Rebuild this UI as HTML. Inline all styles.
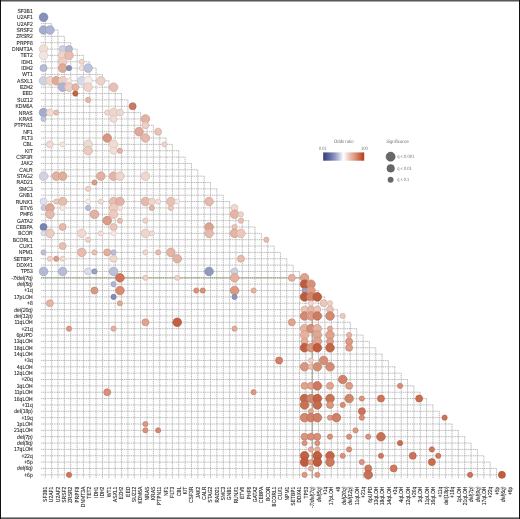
<!DOCTYPE html><html><head><meta charset="utf-8"><style>html,body{margin:0;padding:0;background:#fff;}svg{display:block;}text{font-family:"Liberation Sans",Arial,sans-serif;text-rendering:geometricPrecision;}</style></head><body><svg width="520" height="519" viewBox="0 0 520 519"><rect width="520" height="519" fill="#fff"/><g stroke="#a8a8a8" stroke-width="0.8" stroke-dasharray="1.2,0.6" fill="none"><path d="M41,17.27H45.3"/><path d="M41,23.62H51.66"/><path d="M41,29.98H58.01"/><path d="M41,36.34H64.36"/><path d="M41,42.69H70.72"/><path d="M41,49.05H77.08"/><path d="M41,55.4H83.43"/><path d="M41,61.76H89.78"/><path d="M41,68.11H96.14"/><path d="M41,74.47H102.5"/><path d="M41,80.82H108.85"/><path d="M41,87.18H115.2"/><path d="M41,93.53H121.56"/><path d="M41,99.88H127.92"/><path d="M41,106.24H134.27"/><path d="M41,112.59H140.62"/><path d="M41,118.95H146.98"/><path d="M41,125.31H153.34"/><path d="M41,131.66H159.69"/><path d="M41,138.02H166.05"/><path d="M41,144.37H172.4"/><path d="M41,150.72H178.75"/><path d="M41,157.08H185.11"/><path d="M41,163.44H191.47"/><path d="M41,169.79H197.82"/><path d="M41,176.15H204.18"/><path d="M41,182.5H210.53"/><path d="M41,188.85H216.88"/><path d="M41,195.21H223.24"/><path d="M41,201.56H229.6"/><path d="M41,207.92H235.95"/><path d="M41,214.28H242.31"/><path d="M41,220.63H248.66"/><path d="M41,226.99H255.01"/><path d="M41,233.34H261.37"/><path d="M41,239.7H267.73"/><path d="M41,246.05H274.08"/><path d="M41,252.41H280.44"/><path d="M41,258.76H286.79"/><path d="M41,265.12H293.15"/><path d="M41,271.47H299.5"/><path d="M41,277.83H305.86"/><path d="M41,284.18H312.21"/><path d="M41,290.54H318.57"/><path d="M41,296.89H324.92"/><path d="M41,303.25H331.28"/><path d="M41,309.6H337.63"/><path d="M41,315.96H343.99"/><path d="M41,322.31H350.34"/><path d="M41,328.67H356.7"/><path d="M41,335.02H363.05"/><path d="M41,341.38H369.41"/><path d="M41,347.73H375.76"/><path d="M41,354.09H382.12"/><path d="M41,360.44H388.47"/><path d="M41,366.8H394.83"/><path d="M41,373.15H401.18"/><path d="M41,379.51H407.54"/><path d="M41,385.86H413.89"/><path d="M41,392.22H420.25"/><path d="M41,398.57H426.6"/><path d="M41,404.93H432.96"/><path d="M41,411.28H439.31"/><path d="M41,417.64H445.67"/><path d="M41,423.99H452.02"/><path d="M41,430.35H458.38"/><path d="M41,436.7H464.73"/><path d="M41,443.06H471.09"/><path d="M41,449.41H477.44"/><path d="M41,455.77H483.8"/><path d="M41,462.12H490.15"/><path d="M41,468.48H496.51"/><path d="M41,474.83H502.86"/><path d="M45.3,17.27V478.5"/><path d="M51.66,23.62V478.5"/><path d="M58.01,29.98V478.5"/><path d="M64.36,36.34V478.5"/><path d="M70.72,42.69V478.5"/><path d="M77.08,49.05V478.5"/><path d="M83.43,55.4V478.5"/><path d="M89.78,61.76V478.5"/><path d="M96.14,68.11V478.5"/><path d="M102.5,74.47V478.5"/><path d="M108.85,80.82V478.5"/><path d="M115.2,87.18V478.5"/><path d="M121.56,93.53V478.5"/><path d="M127.92,99.88V478.5"/><path d="M134.27,106.24V478.5"/><path d="M140.62,112.59V478.5"/><path d="M146.98,118.95V478.5"/><path d="M153.34,125.31V478.5"/><path d="M159.69,131.66V478.5"/><path d="M166.05,138.02V478.5"/><path d="M172.4,144.37V478.5"/><path d="M178.75,150.72V478.5"/><path d="M185.11,157.08V478.5"/><path d="M191.47,163.44V478.5"/><path d="M197.82,169.79V478.5"/><path d="M204.18,176.15V478.5"/><path d="M210.53,182.5V478.5"/><path d="M216.88,188.85V478.5"/><path d="M223.24,195.21V478.5"/><path d="M229.6,201.56V478.5"/><path d="M235.95,207.92V478.5"/><path d="M242.31,214.28V478.5"/><path d="M248.66,220.63V478.5"/><path d="M255.01,226.99V478.5"/><path d="M261.37,233.34V478.5"/><path d="M267.73,239.7V478.5"/><path d="M274.08,246.05V478.5"/><path d="M280.44,252.41V478.5"/><path d="M286.79,258.76V478.5"/><path d="M293.15,265.12V478.5"/><path d="M299.5,271.47V478.5"/><path d="M305.86,277.83V478.5"/><path d="M312.21,284.18V478.5"/><path d="M318.57,290.54V478.5"/><path d="M324.92,296.89V478.5"/><path d="M331.28,303.25V478.5"/><path d="M337.63,309.6V478.5"/><path d="M343.99,315.96V478.5"/><path d="M350.34,322.31V478.5"/><path d="M356.7,328.67V478.5"/><path d="M363.05,335.02V478.5"/><path d="M369.41,341.38V478.5"/><path d="M375.76,347.73V478.5"/><path d="M382.12,354.09V478.5"/><path d="M388.47,360.44V478.5"/><path d="M394.83,366.8V478.5"/><path d="M401.18,373.15V478.5"/><path d="M407.54,379.51V478.5"/><path d="M413.89,385.86V478.5"/><path d="M420.25,392.22V478.5"/><path d="M426.6,398.57V478.5"/><path d="M432.96,404.93V478.5"/><path d="M439.31,411.28V478.5"/><path d="M445.67,417.64V478.5"/><path d="M452.02,423.99V478.5"/><path d="M458.38,430.35V478.5"/><path d="M464.73,436.7V478.5"/><path d="M471.09,443.06V478.5"/><path d="M477.44,449.41V478.5"/><path d="M483.8,455.77V478.5"/><path d="M490.15,462.12V478.5"/><path d="M496.51,468.48V478.5"/><path d="M502.86,474.83V478.5"/></g><path d="M41,277.83H305.86" stroke="#93a07e" stroke-width="1.3" stroke-dasharray="1.4,0.5" fill="none"/><path d="M312.21,284.18V478.5" stroke="#8a9a78" stroke-width="0.9" fill="none"/><circle cx="43.55" cy="17.27" r="4.3" fill="#8690bb" stroke="#757ea4" stroke-width="0.7"/><circle cx="43.55" cy="29.98" r="4.3" fill="#a6accc" stroke="#9297b3" stroke-width="0.7"/><circle cx="49.92" cy="29.98" r="4.3" fill="#aeb4d4" stroke="#999eba" stroke-width="0.7"/><circle cx="43.55" cy="49.05" r="4.3" fill="#f2ded6" stroke="#d4c3bc" stroke-width="0.7"/><circle cx="62.65" cy="49.05" r="3.5" fill="#cdcfe1" stroke="#b4b6c6" stroke-width="0.7"/><circle cx="69.01" cy="49.05" r="3.5" fill="#b6bbd7" stroke="#a0a4bd" stroke-width="0.7"/><circle cx="43.55" cy="55.4" r="4.3" fill="#f2e4e1" stroke="#d4c8c6" stroke-width="0.7"/><circle cx="62.65" cy="55.4" r="4.3" fill="#efd4cb" stroke="#d2bab2" stroke-width="0.7"/><circle cx="69.01" cy="55.4" r="4.3" fill="#e8bcb1" stroke="#cca59b" stroke-width="0.7"/><circle cx="62.65" cy="61.76" r="4.3" fill="#edcec3" stroke="#d0b5ab" stroke-width="0.7"/><circle cx="81.75" cy="61.76" r="2.6" fill="#f0d7ce" stroke="#d3bdb5" stroke-width="0.7"/><circle cx="43.55" cy="68.11" r="3.5" fill="#b8bcd8" stroke="#a1a5be" stroke-width="0.7"/><circle cx="62.65" cy="68.11" r="4.3" fill="#e0ac9a" stroke="#c59787" stroke-width="0.7"/><circle cx="69.01" cy="68.11" r="2.6" fill="#8890b8" stroke="#777ea1" stroke-width="0.7"/><circle cx="81.75" cy="68.11" r="2.6" fill="#f3e3dd" stroke="#d5c7c2" stroke-width="0.7"/><circle cx="88.11" cy="68.11" r="4.3" fill="#bec3dd" stroke="#a7abc2" stroke-width="0.7"/><circle cx="43.55" cy="80.82" r="4.3" fill="#cfd2e3" stroke="#b6b8c7" stroke-width="0.7"/><circle cx="49.92" cy="80.82" r="4.3" fill="#efd7ce" stroke="#d2bdb5" stroke-width="0.7"/><circle cx="56.28" cy="80.82" r="4.3" fill="#dfab98" stroke="#c49685" stroke-width="0.7"/><circle cx="62.65" cy="80.82" r="4.3" fill="#edcec4" stroke="#d0b5ac" stroke-width="0.7"/><circle cx="69.01" cy="80.82" r="2.6" fill="#f6e9e5" stroke="#d8cdc9" stroke-width="0.7"/><circle cx="81.75" cy="80.82" r="4.3" fill="#d7d9e8" stroke="#bdbecc" stroke-width="0.7"/><circle cx="88.11" cy="80.82" r="4.3" fill="#f7ece9" stroke="#d9cfcd" stroke-width="0.7"/><circle cx="100.84" cy="80.82" r="4.3" fill="#edd2c7" stroke="#d0b8af" stroke-width="0.7"/><circle cx="62.65" cy="87.18" r="4.3" fill="#afb4d4" stroke="#9a9eba" stroke-width="0.7"/><circle cx="69.01" cy="87.18" r="4.3" fill="#edcfc5" stroke="#d0b6ad" stroke-width="0.7"/><circle cx="75.38" cy="87.18" r="3.5" fill="#e4b6a7" stroke="#c8a092" stroke-width="0.7"/><circle cx="88.11" cy="87.18" r="4.3" fill="#f0d5cb" stroke="#d3bbb2" stroke-width="0.7"/><circle cx="75.38" cy="93.53" r="2.6" fill="#c26442" stroke="#aa583a" stroke-width="0.7"/><circle cx="88.11" cy="99.88" r="2.6" fill="#e6b6a6" stroke="#caa092" stroke-width="0.7"/><circle cx="43.55" cy="112.59" r="4.3" fill="#a4abcc" stroke="#9096b3" stroke-width="0.7"/><circle cx="49.92" cy="112.59" r="3.5" fill="#f1dbd3" stroke="#d4c0b9" stroke-width="0.7"/><circle cx="56.28" cy="112.59" r="2.6" fill="#e9bfb1" stroke="#cda89b" stroke-width="0.7"/><circle cx="43.55" cy="118.95" r="2.6" fill="#c1c5dd" stroke="#a9adc2" stroke-width="0.7"/><circle cx="113.58" cy="87.18" r="4.3" fill="#e8bfb3" stroke="#cca89d" stroke-width="0.7"/><circle cx="132.67" cy="106.24" r="3.5" fill="#c97a63" stroke="#b06b57" stroke-width="0.7"/><circle cx="107.21" cy="112.59" r="2.6" fill="#efd8cf" stroke="#d2beb6" stroke-width="0.7"/><circle cx="113.58" cy="112.59" r="4.3" fill="#efd6cd" stroke="#d2bcb4" stroke-width="0.7"/><circle cx="119.94" cy="112.59" r="3.5" fill="#efd8cf" stroke="#d2beb6" stroke-width="0.7"/><circle cx="113.58" cy="118.95" r="3.5" fill="#f1dcd4" stroke="#d4c1ba" stroke-width="0.7"/><circle cx="145.41" cy="118.95" r="4.3" fill="#e2b2a3" stroke="#c69c8f" stroke-width="0.7"/><circle cx="145.41" cy="125.31" r="3.5" fill="#edcec3" stroke="#d0b5ab" stroke-width="0.7"/><circle cx="139.04" cy="131.66" r="4.3" fill="#e0a898" stroke="#c59385" stroke-width="0.7"/><circle cx="158.14" cy="131.66" r="3.5" fill="#e9c4b8" stroke="#cdaca1" stroke-width="0.7"/><circle cx="49.92" cy="144.37" r="3.5" fill="#f1dad1" stroke="#d4bfb7" stroke-width="0.7"/><circle cx="62.65" cy="144.37" r="2.6" fill="#f4e3dd" stroke="#d6c7c2" stroke-width="0.7"/><circle cx="88.11" cy="144.37" r="4.3" fill="#ecdad4" stroke="#cfbfba" stroke-width="0.7"/><circle cx="88.11" cy="150.72" r="4.3" fill="#eccbbf" stroke="#cfb2a8" stroke-width="0.7"/><circle cx="43.55" cy="176.15" r="4.3" fill="#cfd2e1" stroke="#b6b8c6" stroke-width="0.7"/><circle cx="56.28" cy="176.15" r="4.3" fill="#e2b2a3" stroke="#c69c8f" stroke-width="0.7"/><circle cx="62.65" cy="176.15" r="4.3" fill="#e0ae9a" stroke="#c59987" stroke-width="0.7"/><circle cx="100.84" cy="176.15" r="4.3" fill="#e1b2a2" stroke="#c69c8e" stroke-width="0.7"/><circle cx="94.48" cy="182.5" r="2.6" fill="#d99e8a" stroke="#be8b79" stroke-width="0.7"/><circle cx="88.11" cy="188.85" r="2.6" fill="#efd1c8" stroke="#d2b7b0" stroke-width="0.7"/><circle cx="107.21" cy="138.02" r="4.3" fill="#d99782" stroke="#be8472" stroke-width="0.7"/><circle cx="145.41" cy="138.02" r="4.3" fill="#e6b9ab" stroke="#caa296" stroke-width="0.7"/><circle cx="113.58" cy="144.37" r="4.3" fill="#f1dbd2" stroke="#d4c0b8" stroke-width="0.7"/><circle cx="164.5" cy="144.37" r="2.6" fill="#eed3ca" stroke="#d1b9b1" stroke-width="0.7"/><circle cx="113.58" cy="150.72" r="3.5" fill="#f3dfd8" stroke="#d5c4be" stroke-width="0.7"/><circle cx="119.94" cy="150.72" r="2.6" fill="#e4b4a4" stroke="#c89e90" stroke-width="0.7"/><circle cx="113.58" cy="176.15" r="4.3" fill="#e4b5a7" stroke="#c89f92" stroke-width="0.7"/><circle cx="119.94" cy="176.15" r="4.3" fill="#efd5cc" stroke="#d2bbb3" stroke-width="0.7"/><circle cx="145.41" cy="176.15" r="4.3" fill="#f0d7ce" stroke="#d3bdb5" stroke-width="0.7"/><circle cx="43.55" cy="201.56" r="3.5" fill="#dedfeb" stroke="#c3c4ce" stroke-width="0.7"/><circle cx="56.28" cy="201.56" r="2.6" fill="#ecc8bb" stroke="#cfb0a4" stroke-width="0.7"/><circle cx="62.65" cy="201.56" r="4.3" fill="#e6bcad" stroke="#caa598" stroke-width="0.7"/><circle cx="88.11" cy="201.56" r="2.6" fill="#f6ebe7" stroke="#d8cecb" stroke-width="0.7"/><circle cx="100.84" cy="201.56" r="2.6" fill="#f0dad1" stroke="#d3bfb7" stroke-width="0.7"/><circle cx="43.55" cy="207.92" r="2.6" fill="#c9cce0" stroke="#b0b3c5" stroke-width="0.7"/><circle cx="49.92" cy="207.92" r="4.3" fill="#dea896" stroke="#c39384" stroke-width="0.7"/><circle cx="62.65" cy="207.92" r="2.6" fill="#f6e7e3" stroke="#d8cbc7" stroke-width="0.7"/><circle cx="88.11" cy="207.92" r="2.6" fill="#b8bcd8" stroke="#a1a5be" stroke-width="0.7"/><circle cx="49.92" cy="214.28" r="4.3" fill="#e5b9ae" stroke="#c9a299" stroke-width="0.7"/><circle cx="94.48" cy="214.28" r="4.3" fill="#e1b1a2" stroke="#c69b8e" stroke-width="0.7"/><circle cx="43.55" cy="226.99" r="3.5" fill="#7a84b2" stroke="#6b749c" stroke-width="0.7"/><circle cx="62.65" cy="226.99" r="3.5" fill="#e6b9aa" stroke="#caa295" stroke-width="0.7"/><circle cx="43.55" cy="233.34" r="2.6" fill="#dbdeec" stroke="#c0c3cf" stroke-width="0.7"/><circle cx="49.92" cy="233.34" r="4.3" fill="#eccbc0" stroke="#cfb2a8" stroke-width="0.7"/><circle cx="81.75" cy="233.34" r="4.3" fill="#f1d8cf" stroke="#d4beb6" stroke-width="0.7"/><circle cx="100.84" cy="233.34" r="2.6" fill="#f2ded6" stroke="#d4c3bc" stroke-width="0.7"/><circle cx="88.11" cy="239.7" r="2.6" fill="#eed2c8" stroke="#d1b8b0" stroke-width="0.7"/><circle cx="62.65" cy="246.05" r="3.5" fill="#e8beb0" stroke="#cca79a" stroke-width="0.7"/><circle cx="43.55" cy="252.41" r="2.6" fill="#bcc0db" stroke="#a5a8c0" stroke-width="0.7"/><circle cx="81.75" cy="252.41" r="4.3" fill="#e7bbad" stroke="#cba498" stroke-width="0.7"/><circle cx="94.48" cy="252.41" r="2.6" fill="#e9c1b2" stroke="#cda99c" stroke-width="0.7"/><circle cx="49.92" cy="258.76" r="2.6" fill="#efd3c9" stroke="#d2b9b0" stroke-width="0.7"/><circle cx="56.28" cy="258.76" r="2.6" fill="#da9e8a" stroke="#bf8b79" stroke-width="0.7"/><circle cx="62.65" cy="258.76" r="2.6" fill="#f0d9d0" stroke="#d3beb7" stroke-width="0.7"/><circle cx="113.58" cy="201.56" r="4.3" fill="#e8beb2" stroke="#cca79c" stroke-width="0.7"/><circle cx="119.94" cy="201.56" r="4.3" fill="#e2b2a3" stroke="#c69c8f" stroke-width="0.7"/><circle cx="145.41" cy="201.56" r="4.3" fill="#e6b9ab" stroke="#caa296" stroke-width="0.7"/><circle cx="151.77" cy="201.56" r="3.5" fill="#efd5cb" stroke="#d2bbb2" stroke-width="0.7"/><circle cx="158.14" cy="201.56" r="2.6" fill="#f3ded7" stroke="#d5c3bd" stroke-width="0.7"/><circle cx="113.58" cy="207.92" r="4.3" fill="#edcbbf" stroke="#d0b2a8" stroke-width="0.7"/><circle cx="119.94" cy="207.92" r="2.6" fill="#f3e0d8" stroke="#d5c5be" stroke-width="0.7"/><circle cx="151.77" cy="207.92" r="2.6" fill="#e4b6a6" stroke="#c8a092" stroke-width="0.7"/><circle cx="113.58" cy="214.28" r="4.3" fill="#edcabd" stroke="#d0b1a6" stroke-width="0.7"/><circle cx="107.21" cy="220.63" r="4.3" fill="#da9d88" stroke="#bf8a77" stroke-width="0.7"/><circle cx="119.94" cy="220.63" r="2.6" fill="#e8bfb0" stroke="#cca89a" stroke-width="0.7"/><circle cx="145.41" cy="220.63" r="2.6" fill="#efd1c8" stroke="#d2b7b0" stroke-width="0.7"/><circle cx="113.58" cy="226.99" r="3.5" fill="#eac4b7" stroke="#cdaca1" stroke-width="0.7"/><circle cx="113.58" cy="233.34" r="2.6" fill="#f6e8e4" stroke="#d8ccc8" stroke-width="0.7"/><circle cx="145.41" cy="233.34" r="4.3" fill="#f0d5cb" stroke="#d3bbb2" stroke-width="0.7"/><circle cx="151.77" cy="233.34" r="2.6" fill="#f1dbd3" stroke="#d4c0b9" stroke-width="0.7"/><circle cx="107.21" cy="252.41" r="3.5" fill="#e2af9e" stroke="#c69a8b" stroke-width="0.7"/><circle cx="113.58" cy="252.41" r="2.6" fill="#bbbfda" stroke="#a4a8bf" stroke-width="0.7"/><circle cx="145.41" cy="252.41" r="2.6" fill="#efd5cc" stroke="#d2bbb3" stroke-width="0.7"/><circle cx="158.14" cy="252.41" r="2.6" fill="#e7bcae" stroke="#cba599" stroke-width="0.7"/><circle cx="113.58" cy="258.76" r="3.5" fill="#efd7ce" stroke="#d2bdb5" stroke-width="0.7"/><circle cx="170.87" cy="201.56" r="4.3" fill="#e9c1b3" stroke="#cda99d" stroke-width="0.7"/><circle cx="177.24" cy="201.56" r="2.6" fill="#f6e7e3" stroke="#d8cbc7" stroke-width="0.7"/><circle cx="209.07" cy="201.56" r="4.3" fill="#e6b9ab" stroke="#caa296" stroke-width="0.7"/><circle cx="170.87" cy="207.92" r="2.6" fill="#ebc9bd" stroke="#ceb0a6" stroke-width="0.7"/><circle cx="209.07" cy="226.99" r="4.3" fill="#dba491" stroke="#c0907f" stroke-width="0.7"/><circle cx="209.07" cy="233.34" r="4.3" fill="#e6bbac" stroke="#caa497" stroke-width="0.7"/><circle cx="170.87" cy="252.41" r="4.3" fill="#e4b4a4" stroke="#c89e90" stroke-width="0.7"/><circle cx="177.24" cy="258.76" r="4.3" fill="#e2b3a4" stroke="#c69d90" stroke-width="0.7"/><circle cx="234.53" cy="207.92" r="3.5" fill="#f0d8cf" stroke="#d3beb6" stroke-width="0.7"/><circle cx="234.53" cy="214.28" r="4.3" fill="#e4b5a7" stroke="#c89f92" stroke-width="0.7"/><circle cx="240.9" cy="214.28" r="2.6" fill="#f0d5cb" stroke="#d3bbb2" stroke-width="0.7"/><circle cx="240.9" cy="220.63" r="2.6" fill="#e9c1b2" stroke="#cda99c" stroke-width="0.7"/><circle cx="234.53" cy="226.99" r="2.6" fill="#eac4b7" stroke="#cdaca1" stroke-width="0.7"/><circle cx="234.53" cy="233.34" r="4.3" fill="#e4b4a4" stroke="#c89e90" stroke-width="0.7"/><circle cx="240.9" cy="233.34" r="4.3" fill="#ecc8bb" stroke="#cfb0a4" stroke-width="0.7"/><circle cx="266.36" cy="239.7" r="2.6" fill="#e7bcae" stroke="#cba599" stroke-width="0.7"/><circle cx="240.9" cy="258.76" r="3.5" fill="#e7bcae" stroke="#cba599" stroke-width="0.7"/><circle cx="43.55" cy="271.47" r="4.3" fill="#b4b9d6" stroke="#9ea2bc" stroke-width="0.7"/><circle cx="62.65" cy="271.47" r="4.3" fill="#b8bcd8" stroke="#a1a5be" stroke-width="0.7"/><circle cx="88.11" cy="271.47" r="3.5" fill="#dbddea" stroke="#c0c2cd" stroke-width="0.7"/><circle cx="94.48" cy="271.47" r="2.6" fill="#9aa1c7" stroke="#878daf" stroke-width="0.7"/><circle cx="94.48" cy="290.54" r="3.5" fill="#d69a83" stroke="#bc8773" stroke-width="0.7"/><circle cx="49.92" cy="303.25" r="3.5" fill="#e7b4a4" stroke="#cb9e90" stroke-width="0.7"/><circle cx="113.58" cy="271.47" r="4.3" fill="#bdbfdb" stroke="#a6a8c0" stroke-width="0.7"/><circle cx="119.94" cy="277.83" r="4.3" fill="#d27559" stroke="#b8664e" stroke-width="0.7"/><circle cx="145.41" cy="277.83" r="2.6" fill="#efd1c6" stroke="#d2b7ae" stroke-width="0.7"/><circle cx="113.58" cy="284.18" r="2.6" fill="#aeb4d3" stroke="#999eb9" stroke-width="0.7"/><circle cx="119.94" cy="290.54" r="4.3" fill="#d88b72" stroke="#be7a64" stroke-width="0.7"/><circle cx="113.58" cy="296.89" r="2.6" fill="#838bb7" stroke="#737aa1" stroke-width="0.7"/><circle cx="119.94" cy="303.25" r="2.6" fill="#e3a894" stroke="#c79382" stroke-width="0.7"/><circle cx="145.41" cy="322.31" r="3.5" fill="#e1a38d" stroke="#c68f7c" stroke-width="0.7"/><circle cx="209.07" cy="271.47" r="4.3" fill="#8f9bbd" stroke="#7d88a6" stroke-width="0.7"/><circle cx="177.24" cy="277.83" r="2.6" fill="#f0d1c6" stroke="#d3b7ae" stroke-width="0.7"/><circle cx="196.33" cy="290.54" r="2.6" fill="#da927a" stroke="#bf806b" stroke-width="0.7"/><circle cx="202.7" cy="290.54" r="2.6" fill="#d99077" stroke="#be7e68" stroke-width="0.7"/><circle cx="177.24" cy="322.31" r="4.3" fill="#c26042" stroke="#aa543a" stroke-width="0.7"/><circle cx="234.53" cy="271.47" r="3.5" fill="#cdd0e0" stroke="#b4b7c5" stroke-width="0.7"/><circle cx="234.53" cy="277.83" r="4.3" fill="#e6b19f" stroke="#ca9b8b" stroke-width="0.7"/><circle cx="291.82" cy="277.83" r="3.5" fill="#e4b1a0" stroke="#c89b8c" stroke-width="0.7"/><circle cx="234.53" cy="290.54" r="4.3" fill="#de9982" stroke="#c38672" stroke-width="0.7"/><circle cx="253.63" cy="290.54" r="2.6" fill="#e7b1a0" stroke="#cb9b8c" stroke-width="0.7"/><circle cx="234.53" cy="296.89" r="2.6" fill="#8e95bd" stroke="#7c83a6" stroke-width="0.7"/><circle cx="291.82" cy="322.31" r="3.5" fill="#e1a38d" stroke="#c68f7c" stroke-width="0.7"/><circle cx="304.56" cy="277.83" r="4.3" fill="#dea28f" stroke="#c38e7d" stroke-width="0.7"/><circle cx="304.56" cy="284.18" r="4.3" fill="#bd5b3c" stroke="#a65034" stroke-width="0.7"/><circle cx="310.92" cy="284.18" r="4.3" fill="#d5917a" stroke="#bb7f6b" stroke-width="0.7"/><circle cx="304.56" cy="290.54" r="2.6" fill="#9ca3c8" stroke="#898fb0" stroke-width="0.7"/><circle cx="310.92" cy="290.54" r="4.3" fill="#de9c86" stroke="#c38975" stroke-width="0.7"/><circle cx="304.56" cy="296.89" r="4.3" fill="#bd5c3d" stroke="#a65035" stroke-width="0.7"/><circle cx="310.92" cy="296.89" r="4.3" fill="#cf866c" stroke="#b6755f" stroke-width="0.7"/><circle cx="317.29" cy="296.89" r="4.3" fill="#c05e3f" stroke="#a85237" stroke-width="0.7"/><circle cx="310.92" cy="303.25" r="2.6" fill="#f2d9cf" stroke="#d4beb6" stroke-width="0.7"/><circle cx="323.65" cy="303.25" r="3.5" fill="#edc7ba" stroke="#d0afa3" stroke-width="0.7"/><circle cx="330.02" cy="303.25" r="2.6" fill="#efd1c6" stroke="#d2b7ae" stroke-width="0.7"/><circle cx="304.56" cy="309.6" r="3.5" fill="#edc5b7" stroke="#d0ada1" stroke-width="0.7"/><circle cx="310.92" cy="309.6" r="3.5" fill="#e4b8a6" stroke="#c8a192" stroke-width="0.7"/><circle cx="317.29" cy="309.6" r="3.5" fill="#edc5b7" stroke="#d0ada1" stroke-width="0.7"/><circle cx="330.02" cy="309.6" r="3.5" fill="#edc5b7" stroke="#d0ada1" stroke-width="0.7"/><circle cx="304.56" cy="315.96" r="4.3" fill="#d28a72" stroke="#b87964" stroke-width="0.7"/><circle cx="310.92" cy="315.96" r="4.3" fill="#de9c86" stroke="#c38975" stroke-width="0.7"/><circle cx="317.29" cy="315.96" r="4.3" fill="#cc7c62" stroke="#b36d56" stroke-width="0.7"/><circle cx="330.02" cy="315.96" r="4.3" fill="#d48970" stroke="#ba7862" stroke-width="0.7"/><circle cx="342.75" cy="315.96" r="2.6" fill="#eecabe" stroke="#d1b1a7" stroke-width="0.7"/><circle cx="69.01" cy="328.67" r="2.6" fill="#de9982" stroke="#c38672" stroke-width="0.7"/><circle cx="113.58" cy="328.67" r="2.6" fill="#e5b09d" stroke="#c99a8a" stroke-width="0.7"/><circle cx="234.53" cy="328.67" r="2.6" fill="#e4ab97" stroke="#c89684" stroke-width="0.7"/><circle cx="279.09" cy="360.44" r="3.5" fill="#d37e65" stroke="#b96e58" stroke-width="0.7"/><circle cx="304.56" cy="328.67" r="4.3" fill="#e2b3a3" stroke="#c69d8f" stroke-width="0.7"/><circle cx="310.92" cy="328.67" r="4.3" fill="#d48f77" stroke="#ba7d68" stroke-width="0.7"/><circle cx="317.29" cy="328.67" r="4.3" fill="#e7b2a1" stroke="#cb9c8d" stroke-width="0.7"/><circle cx="330.02" cy="328.67" r="2.6" fill="#e3a894" stroke="#c79382" stroke-width="0.7"/><circle cx="304.56" cy="335.02" r="4.3" fill="#e7b1a0" stroke="#cb9b8c" stroke-width="0.7"/><circle cx="317.29" cy="335.02" r="4.3" fill="#dfa894" stroke="#c49382" stroke-width="0.7"/><circle cx="330.02" cy="335.02" r="4.3" fill="#e1a38d" stroke="#c68f7c" stroke-width="0.7"/><circle cx="349.12" cy="335.02" r="2.6" fill="#e7b1a0" stroke="#cb9b8c" stroke-width="0.7"/><circle cx="304.56" cy="341.38" r="3.5" fill="#e4ad99" stroke="#c89886" stroke-width="0.7"/><circle cx="317.29" cy="341.38" r="4.3" fill="#e1a38d" stroke="#c68f7c" stroke-width="0.7"/><circle cx="330.02" cy="341.38" r="3.5" fill="#dba08a" stroke="#c08c79" stroke-width="0.7"/><circle cx="349.12" cy="341.38" r="3.5" fill="#de9982" stroke="#c38672" stroke-width="0.7"/><circle cx="304.56" cy="347.73" r="4.3" fill="#c26042" stroke="#aa543a" stroke-width="0.7"/><circle cx="310.92" cy="347.73" r="4.3" fill="#da947d" stroke="#bf826e" stroke-width="0.7"/><circle cx="317.29" cy="347.73" r="4.3" fill="#c05d3e" stroke="#a85136" stroke-width="0.7"/><circle cx="330.02" cy="347.73" r="4.3" fill="#c46545" stroke="#ac583c" stroke-width="0.7"/><circle cx="349.12" cy="347.73" r="3.5" fill="#de9c86" stroke="#c38975" stroke-width="0.7"/><circle cx="310.92" cy="360.44" r="2.6" fill="#efcdc1" stroke="#d2b4a9" stroke-width="0.7"/><circle cx="323.65" cy="360.44" r="4.3" fill="#d28e76" stroke="#b87c67" stroke-width="0.7"/><circle cx="304.56" cy="366.8" r="4.3" fill="#d69782" stroke="#bc8472" stroke-width="0.7"/><circle cx="310.92" cy="366.8" r="2.6" fill="#ebc0b2" stroke="#cea89c" stroke-width="0.7"/><circle cx="317.29" cy="366.8" r="4.3" fill="#d48e76" stroke="#ba7c67" stroke-width="0.7"/><circle cx="330.02" cy="366.8" r="4.3" fill="#d28c74" stroke="#b87b66" stroke-width="0.7"/><circle cx="342.75" cy="379.51" r="4.3" fill="#d0826a" stroke="#b7725d" stroke-width="0.7"/><circle cx="304.56" cy="385.86" r="3.5" fill="#e1a38d" stroke="#c68f7c" stroke-width="0.7"/><circle cx="310.92" cy="385.86" r="3.5" fill="#e1a38d" stroke="#c68f7c" stroke-width="0.7"/><circle cx="317.29" cy="385.86" r="4.3" fill="#cc7b62" stroke="#b36c56" stroke-width="0.7"/><circle cx="330.02" cy="385.86" r="3.5" fill="#e1a38d" stroke="#c68f7c" stroke-width="0.7"/><circle cx="349.12" cy="385.86" r="3.5" fill="#de9c86" stroke="#c38975" stroke-width="0.7"/><circle cx="400.05" cy="385.86" r="2.6" fill="#d78c73" stroke="#bd7b65" stroke-width="0.7"/><circle cx="107.21" cy="392.22" r="3.5" fill="#d99077" stroke="#be7e68" stroke-width="0.7"/><circle cx="145.41" cy="423.99" r="2.6" fill="#dd9780" stroke="#c28470" stroke-width="0.7"/><circle cx="145.41" cy="430.35" r="2.6" fill="#d99077" stroke="#be7e68" stroke-width="0.7"/><circle cx="158.14" cy="430.35" r="2.6" fill="#d7896f" stroke="#bd7861" stroke-width="0.7"/><circle cx="253.63" cy="392.22" r="2.6" fill="#dd9780" stroke="#c28470" stroke-width="0.7"/><circle cx="304.56" cy="398.57" r="4.3" fill="#c46849" stroke="#ac5b40" stroke-width="0.7"/><circle cx="310.92" cy="398.57" r="4.3" fill="#cf886e" stroke="#b67760" stroke-width="0.7"/><circle cx="317.29" cy="398.57" r="4.3" fill="#c26242" stroke="#aa563a" stroke-width="0.7"/><circle cx="330.02" cy="398.57" r="4.3" fill="#c87455" stroke="#b0664a" stroke-width="0.7"/><circle cx="349.12" cy="398.57" r="4.3" fill="#cf866a" stroke="#b6755d" stroke-width="0.7"/><circle cx="304.56" cy="404.93" r="4.3" fill="#c87254" stroke="#b06449" stroke-width="0.7"/><circle cx="317.29" cy="404.93" r="4.3" fill="#c56b4b" stroke="#ad5e42" stroke-width="0.7"/><circle cx="330.02" cy="404.93" r="3.5" fill="#db9780" stroke="#c08470" stroke-width="0.7"/><circle cx="342.75" cy="404.93" r="2.6" fill="#d78c73" stroke="#bd7b65" stroke-width="0.7"/><circle cx="310.92" cy="411.28" r="2.6" fill="#e3a894" stroke="#c79382" stroke-width="0.7"/><circle cx="304.56" cy="417.64" r="4.3" fill="#d2886d" stroke="#b8775f" stroke-width="0.7"/><circle cx="310.92" cy="417.64" r="4.3" fill="#cf8068" stroke="#b6705b" stroke-width="0.7"/><circle cx="317.29" cy="417.64" r="4.3" fill="#ce7e66" stroke="#b56e59" stroke-width="0.7"/><circle cx="330.02" cy="417.64" r="2.6" fill="#de9982" stroke="#c38672" stroke-width="0.7"/><circle cx="336.39" cy="417.64" r="4.3" fill="#ce7f66" stroke="#b56f59" stroke-width="0.7"/><circle cx="355.48" cy="430.35" r="2.6" fill="#db9780" stroke="#c08470" stroke-width="0.7"/><circle cx="304.56" cy="436.7" r="3.5" fill="#da947d" stroke="#bf826e" stroke-width="0.7"/><circle cx="310.92" cy="436.7" r="3.5" fill="#d88f78" stroke="#be7d69" stroke-width="0.7"/><circle cx="317.29" cy="436.7" r="3.5" fill="#d88f78" stroke="#be7d69" stroke-width="0.7"/><circle cx="330.02" cy="436.7" r="2.6" fill="#d99077" stroke="#be7e68" stroke-width="0.7"/><circle cx="349.12" cy="436.7" r="2.6" fill="#d99077" stroke="#be7e68" stroke-width="0.7"/><circle cx="304.56" cy="443.06" r="2.6" fill="#da947d" stroke="#bf826e" stroke-width="0.7"/><circle cx="317.29" cy="443.06" r="2.6" fill="#da947d" stroke="#bf826e" stroke-width="0.7"/><circle cx="310.92" cy="449.41" r="2.6" fill="#e4ab97" stroke="#c89684" stroke-width="0.7"/><circle cx="317.29" cy="449.41" r="2.6" fill="#e7b1a0" stroke="#cb9b8c" stroke-width="0.7"/><circle cx="349.12" cy="449.41" r="2.6" fill="#d99077" stroke="#be7e68" stroke-width="0.7"/><circle cx="361.85" cy="398.57" r="2.6" fill="#da947d" stroke="#bf826e" stroke-width="0.7"/><circle cx="380.95" cy="398.57" r="3.5" fill="#ce7459" stroke="#b5664e" stroke-width="0.7"/><circle cx="419.14" cy="398.57" r="3.5" fill="#cb6c4e" stroke="#b25f44" stroke-width="0.7"/><circle cx="361.85" cy="411.28" r="3.5" fill="#ce7259" stroke="#b5644e" stroke-width="0.7"/><circle cx="361.85" cy="417.64" r="2.6" fill="#d78c73" stroke="#bd7b65" stroke-width="0.7"/><circle cx="368.22" cy="436.7" r="2.6" fill="#da947d" stroke="#bf826e" stroke-width="0.7"/><circle cx="380.95" cy="436.7" r="4.3" fill="#c87055" stroke="#b0624a" stroke-width="0.7"/><circle cx="400.05" cy="443.06" r="2.6" fill="#cb6c4e" stroke="#b25f44" stroke-width="0.7"/><circle cx="444.61" cy="417.64" r="2.6" fill="#ce7259" stroke="#b5644e" stroke-width="0.7"/><circle cx="431.88" cy="449.41" r="2.6" fill="#d0785b" stroke="#b76950" stroke-width="0.7"/><circle cx="69.01" cy="474.83" r="2.6" fill="#d27559" stroke="#b8664e" stroke-width="0.7"/><circle cx="304.56" cy="455.77" r="4.3" fill="#c26042" stroke="#aa543a" stroke-width="0.7"/><circle cx="317.29" cy="455.77" r="4.3" fill="#c15f40" stroke="#a95338" stroke-width="0.7"/><circle cx="330.02" cy="455.77" r="4.3" fill="#c56646" stroke="#ad593d" stroke-width="0.7"/><circle cx="342.75" cy="455.77" r="2.6" fill="#d99077" stroke="#be7e68" stroke-width="0.7"/><circle cx="304.56" cy="462.12" r="4.3" fill="#bf5c3d" stroke="#a85035" stroke-width="0.7"/><circle cx="310.92" cy="462.12" r="2.6" fill="#e1a38d" stroke="#c68f7c" stroke-width="0.7"/><circle cx="317.29" cy="462.12" r="4.3" fill="#bf5d3e" stroke="#a85136" stroke-width="0.7"/><circle cx="330.02" cy="462.12" r="4.3" fill="#cb7a5e" stroke="#b26b52" stroke-width="0.7"/><circle cx="310.92" cy="468.48" r="2.6" fill="#e5b09d" stroke="#c99a8a" stroke-width="0.7"/><circle cx="304.56" cy="474.83" r="2.6" fill="#db9780" stroke="#c08470" stroke-width="0.7"/><circle cx="317.29" cy="474.83" r="2.6" fill="#db9780" stroke="#c08470" stroke-width="0.7"/><circle cx="380.95" cy="455.77" r="2.6" fill="#d0785b" stroke="#b76950" stroke-width="0.7"/><circle cx="412.78" cy="455.77" r="3.5" fill="#ce7259" stroke="#b5644e" stroke-width="0.7"/><circle cx="361.85" cy="462.12" r="2.6" fill="#da947d" stroke="#bf826e" stroke-width="0.7"/><circle cx="431.88" cy="462.12" r="3.5" fill="#cb6c4e" stroke="#b25f44" stroke-width="0.7"/><circle cx="368.22" cy="468.48" r="3.5" fill="#d0785b" stroke="#b76950" stroke-width="0.7"/><circle cx="393.68" cy="468.48" r="3.5" fill="#d0785b" stroke="#b76950" stroke-width="0.7"/><circle cx="368.22" cy="474.83" r="4.3" fill="#c67055" stroke="#ae624a" stroke-width="0.7"/><circle cx="438.24" cy="455.77" r="2.6" fill="#d0785b" stroke="#b76950" stroke-width="0.7"/><circle cx="470.07" cy="474.83" r="2.6" fill="#ce7259" stroke="#b5644e" stroke-width="0.7"/><circle cx="501.9" cy="474.83" r="3.5" fill="#c25e40" stroke="#aa5238" stroke-width="0.7"/><g font-size="5.9" fill="#222" stroke="#222" stroke-width="0.08" text-anchor="end" transform="scale(0.85,1)"><text x="38.47" y="12.86">SF3B1</text><text x="38.47" y="19.22">U2AF1</text><text x="38.47" y="25.57">U2AF2</text><text x="38.47" y="31.93">SRSF2</text><text x="38.47" y="38.29">ZRSR2</text><text x="38.47" y="44.64">PRPF8</text><text x="38.47" y="51">DNMT3A</text><text x="38.47" y="57.35">TET2</text><text x="38.47" y="63.71">IDH1</text><text x="38.47" y="70.06">IDH2</text><text x="38.47" y="76.42">WT1</text><text x="38.47" y="82.77">ASXL1</text><text x="38.47" y="89.13">EZH2</text><text x="38.47" y="95.48">EED</text><text x="38.47" y="101.83">SUZ12</text><text x="38.47" y="108.19">KDM6A</text><text x="38.47" y="114.55">NRAS</text><text x="38.47" y="120.9">KRAS</text><text x="38.47" y="127.26">PTPN11</text><text x="38.47" y="133.61">NF1</text><text x="38.47" y="139.97">FLT3</text><text x="38.47" y="146.32">CBL</text><text x="38.47" y="152.67">KIT</text><text x="38.47" y="159.03">CSF3R</text><text x="38.47" y="165.38">JAK2</text><text x="38.47" y="171.74">CALR</text><text x="38.47" y="178.09">STAG2</text><text x="38.47" y="184.45">RAD21</text><text x="38.47" y="190.8">SMC3</text><text x="38.47" y="197.16">GNB1</text><text x="38.47" y="203.51">RUNX1</text><text x="38.47" y="209.87">ETV6</text><text x="38.47" y="216.22">PHF6</text><text x="38.47" y="222.58">GATA2</text><text x="38.47" y="228.94">CEBPA</text><text x="38.47" y="235.29">BCOR</text><text x="38.47" y="241.65">BCORL1</text><text x="38.47" y="248">CUX1</text><text x="38.47" y="254.35">NPM1</text><text x="38.47" y="260.71">SETBP1</text><text x="38.47" y="267.06">DDX41</text><text x="38.47" y="273.42">TP53</text><text x="38.47" y="279.78" font-style="italic">-7/del(7q)</text><text x="38.47" y="286.13" font-style="italic">del(5q)</text><text x="38.47" y="292.49">+1q</text><text x="38.47" y="298.84">17pLOH</text><text x="38.47" y="305.2">+8</text><text x="38.47" y="311.55" font-style="italic">del(20q)</text><text x="38.47" y="317.91" font-style="italic">del(12p)</text><text x="38.47" y="324.26">11qLOH</text><text x="38.47" y="330.62">+21q</text><text x="38.47" y="336.97">6pUPD</text><text x="38.47" y="343.33">13qLOH</text><text x="38.47" y="349.68">18qLOH</text><text x="38.47" y="356.04">14qLOH</text><text x="38.47" y="362.39">+3q</text><text x="38.47" y="368.75">4qLOH</text><text x="38.47" y="375.1">12qLOH</text><text x="38.47" y="381.46">+20q</text><text x="38.47" y="387.81">3qLOH</text><text x="38.47" y="394.17">11pLOH</text><text x="38.47" y="400.52">16qLOH</text><text x="38.47" y="406.88">+11q</text><text x="38.47" y="413.23">del(18p)</text><text x="38.47" y="419.59">+19q</text><text x="38.47" y="425.94">1pLOH</text><text x="38.47" y="432.3">21qLOH</text><text x="38.47" y="438.65" font-style="italic">del(7p)</text><text x="38.47" y="445.01" font-style="italic">del(9q)</text><text x="38.47" y="451.36">17qLOH</text><text x="38.47" y="457.72">+22q</text><text x="38.47" y="464.07">+5p</text><text x="38.47" y="470.43" font-style="italic">del(6q)</text><text x="38.47" y="476.78">+6p</text></g><g font-size="5.9" fill="#222" stroke="#222" stroke-width="0.08" text-anchor="end"><text transform="translate(46.85,486.6) rotate(-90) scale(0.85,1)">SF3B1</text><text transform="translate(53.22,486.6) rotate(-90) scale(0.85,1)">U2AF1</text><text transform="translate(59.58,486.6) rotate(-90) scale(0.85,1)">U2AF2</text><text transform="translate(65.95,486.6) rotate(-90) scale(0.85,1)">SRSF2</text><text transform="translate(72.31,486.6) rotate(-90) scale(0.85,1)">ZRSR2</text><text transform="translate(78.68,486.6) rotate(-90) scale(0.85,1)">PRPF8</text><text transform="translate(85.05,486.6) rotate(-90) scale(0.85,1)">DNMT3A</text><text transform="translate(91.41,486.6) rotate(-90) scale(0.85,1)">TET2</text><text transform="translate(97.78,486.6) rotate(-90) scale(0.85,1)">IDH1</text><text transform="translate(104.14,486.6) rotate(-90) scale(0.85,1)">IDH2</text><text transform="translate(110.51,486.6) rotate(-90) scale(0.85,1)">WT1</text><text transform="translate(116.88,486.6) rotate(-90) scale(0.85,1)">ASXL1</text><text transform="translate(123.24,486.6) rotate(-90) scale(0.85,1)">EZH2</text><text transform="translate(129.61,486.6) rotate(-90) scale(0.85,1)">EED</text><text transform="translate(135.97,486.6) rotate(-90) scale(0.85,1)">SUZ12</text><text transform="translate(142.34,486.6) rotate(-90) scale(0.85,1)">KDM6A</text><text transform="translate(148.71,486.6) rotate(-90) scale(0.85,1)">NRAS</text><text transform="translate(155.07,486.6) rotate(-90) scale(0.85,1)">KRAS</text><text transform="translate(161.44,486.6) rotate(-90) scale(0.85,1)">PTPN11</text><text transform="translate(167.8,486.6) rotate(-90) scale(0.85,1)">NF1</text><text transform="translate(174.17,486.6) rotate(-90) scale(0.85,1)">FLT3</text><text transform="translate(180.54,486.6) rotate(-90) scale(0.85,1)">CBL</text><text transform="translate(186.9,486.6) rotate(-90) scale(0.85,1)">KIT</text><text transform="translate(193.27,486.6) rotate(-90) scale(0.85,1)">CSF3R</text><text transform="translate(199.63,486.6) rotate(-90) scale(0.85,1)">JAK2</text><text transform="translate(206,486.6) rotate(-90) scale(0.85,1)">CALR</text><text transform="translate(212.37,486.6) rotate(-90) scale(0.85,1)">STAG2</text><text transform="translate(218.73,486.6) rotate(-90) scale(0.85,1)">RAD21</text><text transform="translate(225.1,486.6) rotate(-90) scale(0.85,1)">SMC3</text><text transform="translate(231.46,486.6) rotate(-90) scale(0.85,1)">GNB1</text><text transform="translate(237.83,486.6) rotate(-90) scale(0.85,1)">RUNX1</text><text transform="translate(244.2,486.6) rotate(-90) scale(0.85,1)">ETV6</text><text transform="translate(250.56,486.6) rotate(-90) scale(0.85,1)">PHF6</text><text transform="translate(256.93,486.6) rotate(-90) scale(0.85,1)">GATA2</text><text transform="translate(263.29,486.6) rotate(-90) scale(0.85,1)">CEBPA</text><text transform="translate(269.66,486.6) rotate(-90) scale(0.85,1)">BCOR</text><text transform="translate(276.03,486.6) rotate(-90) scale(0.85,1)">BCORL1</text><text transform="translate(282.39,486.6) rotate(-90) scale(0.85,1)">CUX1</text><text transform="translate(288.76,486.6) rotate(-90) scale(0.85,1)">NPM1</text><text transform="translate(295.12,486.6) rotate(-90) scale(0.85,1)">SETBP1</text><text transform="translate(301.49,486.6) rotate(-90) scale(0.85,1)">DDX41</text><text transform="translate(307.86,486.6) rotate(-90) scale(0.85,1)">TP53</text><text transform="translate(314.22,486.6) rotate(-90) scale(0.85,1)" font-style="italic">-7/del(7q)</text><text transform="translate(320.59,486.6) rotate(-90) scale(0.85,1)" font-style="italic">del(5q)</text><text transform="translate(326.95,486.6) rotate(-90) scale(0.85,1)">+1q</text><text transform="translate(333.32,486.6) rotate(-90) scale(0.85,1)">17pLOH</text><text transform="translate(339.69,486.6) rotate(-90) scale(0.85,1)">+8</text><text transform="translate(346.05,486.6) rotate(-90) scale(0.85,1)" font-style="italic">del(20q)</text><text transform="translate(352.42,486.6) rotate(-90) scale(0.85,1)" font-style="italic">del(12p)</text><text transform="translate(358.78,486.6) rotate(-90) scale(0.85,1)">11qLOH</text><text transform="translate(365.15,486.6) rotate(-90) scale(0.85,1)">+21q</text><text transform="translate(371.52,486.6) rotate(-90) scale(0.85,1)">6pUPD</text><text transform="translate(377.88,486.6) rotate(-90) scale(0.85,1)">13qLOH</text><text transform="translate(384.25,486.6) rotate(-90) scale(0.85,1)">18qLOH</text><text transform="translate(390.61,486.6) rotate(-90) scale(0.85,1)">14qLOH</text><text transform="translate(396.98,486.6) rotate(-90) scale(0.85,1)">+3q</text><text transform="translate(403.35,486.6) rotate(-90) scale(0.85,1)">4qLOH</text><text transform="translate(409.71,486.6) rotate(-90) scale(0.85,1)">12qLOH</text><text transform="translate(416.08,486.6) rotate(-90) scale(0.85,1)">+20q</text><text transform="translate(422.44,486.6) rotate(-90) scale(0.85,1)">3qLOH</text><text transform="translate(428.81,486.6) rotate(-90) scale(0.85,1)">11pLOH</text><text transform="translate(435.18,486.6) rotate(-90) scale(0.85,1)">16qLOH</text><text transform="translate(441.54,486.6) rotate(-90) scale(0.85,1)">+11q</text><text transform="translate(447.91,486.6) rotate(-90) scale(0.85,1)">del(18p)</text><text transform="translate(454.27,486.6) rotate(-90) scale(0.85,1)">+19q</text><text transform="translate(460.64,486.6) rotate(-90) scale(0.85,1)">1pLOH</text><text transform="translate(467.01,486.6) rotate(-90) scale(0.85,1)">21qLOH</text><text transform="translate(473.37,486.6) rotate(-90) scale(0.85,1)" font-style="italic">del(7p)</text><text transform="translate(479.74,486.6) rotate(-90) scale(0.85,1)" font-style="italic">del(9q)</text><text transform="translate(486.1,486.6) rotate(-90) scale(0.85,1)">17qLOH</text><text transform="translate(492.47,486.6) rotate(-90) scale(0.85,1)">+22q</text><text transform="translate(498.84,486.6) rotate(-90) scale(0.85,1)">+5p</text><text transform="translate(505.2,486.6) rotate(-90) scale(0.85,1)" font-style="italic">del(6q)</text><text transform="translate(511.57,486.6) rotate(-90) scale(0.85,1)">+6p</text></g><g font-size="4.8" fill="#707070"><text x="334" y="143.2" textLength="19.6" lengthAdjust="spacingAndGlyphs">Odds ratio</text><text x="319" y="150" textLength="7.5" lengthAdjust="spacingAndGlyphs">0.01</text><text x="360.9" y="150" textLength="6.9" lengthAdjust="spacingAndGlyphs">100</text><text x="386.3" y="143.4" textLength="22.6" lengthAdjust="spacingAndGlyphs">Significance</text><text x="397.2" y="157.9" textLength="17" lengthAdjust="spacingAndGlyphs">q &lt; 0.001</text><text x="397.2" y="169.8" textLength="14.5" lengthAdjust="spacingAndGlyphs">q &lt; 0.01</text><text x="397.2" y="181.3" textLength="12" lengthAdjust="spacingAndGlyphs">q &lt; 0.1</text></g><defs><linearGradient id="or" x1="0" x2="1" y1="0" y2="0"><stop offset="0" stop-color="#323d7c"/><stop offset="0.15" stop-color="#5e68a0"/><stop offset="0.27" stop-color="#8a91c0"/><stop offset="0.38" stop-color="#bfc2dc"/><stop offset="0.46" stop-color="#eeeef4"/><stop offset="0.5" stop-color="#ffffff"/><stop offset="0.54" stop-color="#f8ece8"/><stop offset="0.65" stop-color="#ebc0b0"/><stop offset="0.8" stop-color="#d78b70"/><stop offset="1" stop-color="#b33c18"/></linearGradient></defs><rect x="323.2" y="152.4" width="41" height="8.3" fill="url(#or)"/><g fill="#686868" stroke="#505050" stroke-width="0.45"><circle cx="390.6" cy="156.7" r="4.6"/><circle cx="390.7" cy="168.4" r="3.8"/><circle cx="390.6" cy="179.8" r="2.7"/></g><rect x="0" y="0" width="520" height="1" fill="#585858"/><rect x="0" y="1" width="520" height="1" fill="#a8a8a8"/><rect x="0" y="517" width="520" height="1" fill="#9a9a9a"/><rect x="0" y="518" width="520" height="1" fill="#555"/><rect x="0" y="0" width="1" height="519" fill="#111"/><rect x="519" y="0" width="1" height="519" fill="#111"/></svg></body></html>
